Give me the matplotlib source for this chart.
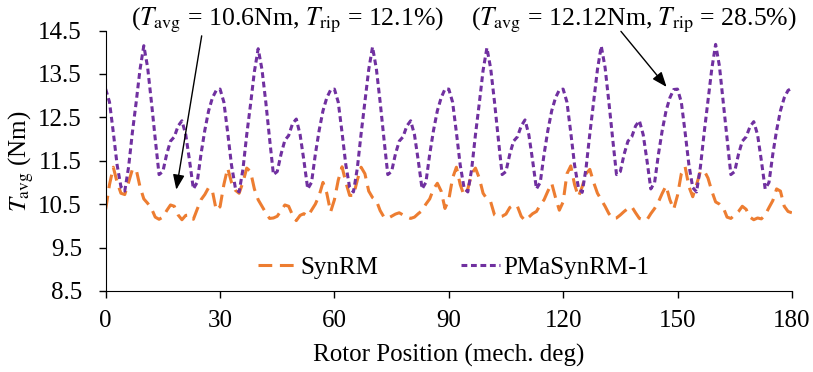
import matplotlib
matplotlib.use("Agg")
import matplotlib.pyplot as plt
import numpy as np

plt.rcParams['font.family'] = ['Liberation Serif', 'DejaVu Serif']
plt.rcParams['mathtext.fontset'] = 'stix'

# rotor position, 1 deg steps, 0..180
angle = np.arange(0, 181, 1)

# torque, one row per 30 deg
synrm = [
    10.38, 10.95, 11.35, 11.00, 10.75, 10.72, 11.00, 11.30, 11.30, 10.90,
    10.62, 10.52, 10.40, 10.20, 10.15, 10.20, 10.35, 10.48, 10.45, 10.25,
    10.14, 10.24, 10.25, 10.15, 10.38, 10.60, 10.72, 10.88, 10.80, 10.36,

    10.44, 10.95, 11.33, 11.00, 10.82, 10.75, 11.00, 11.33, 11.25, 10.85,
    10.60, 10.45, 10.30, 10.17, 10.18, 10.22, 10.35, 10.48, 10.45, 10.25,
    10.12, 10.24, 10.28, 10.22, 10.36, 10.50, 10.70, 11.00, 10.75, 10.32,

    10.60, 11.05, 11.36, 11.00, 10.70, 10.70, 11.05, 11.35, 11.20, 10.80,
    10.65, 10.58, 10.35, 10.20, 10.17, 10.22, 10.27, 10.30, 10.25, 10.20,
    10.17, 10.20, 10.28, 10.35, 10.50, 10.62, 10.85, 10.98, 10.80, 10.40,

    10.60, 11.10, 11.35, 10.95, 10.70, 10.85, 11.20, 11.33, 11.10, 10.75,
    10.62, 10.55, 10.25, 10.20, 10.22, 10.27, 10.42, 10.48, 10.45, 10.22,
    10.12, 10.20, 10.28, 10.33, 10.48, 10.60, 10.80, 10.98, 10.65, 10.36,

    10.55, 11.20, 11.38, 10.95, 10.67, 10.90, 11.20, 11.30, 11.00, 10.75,
    10.60, 10.45, 10.28, 10.17, 10.18, 10.25, 10.33, 10.40, 10.44, 10.30,
    10.17, 10.14, 10.14, 10.28, 10.40, 10.55, 10.75, 10.92, 10.60, 10.38,

    10.70, 11.20, 11.36, 10.90, 10.67, 10.95, 11.25, 11.27, 11.10, 10.80,
    10.55, 10.50, 10.42, 10.20, 10.17, 10.25, 10.33, 10.45, 10.38, 10.20,
    10.14, 10.18, 10.16, 10.25, 10.42, 10.58, 10.85, 10.80, 10.45, 10.33,
    10.30,
]

pmasynrm = [
    13.15, 12.85, 12.15, 11.40, 10.90, 10.80, 11.35, 12.15, 12.85, 13.60,
    14.15, 13.65, 12.85, 12.00, 11.18, 11.25, 11.65, 11.95, 12.05, 12.30,
    12.42, 12.10, 11.50, 10.85, 11.00, 11.65, 12.20, 12.65, 12.95, 13.12,

    13.15, 12.85, 12.15, 11.40, 10.88, 10.78, 11.30, 12.10, 12.80, 13.55,
    14.08, 13.60, 12.85, 12.00, 11.18, 11.25, 11.65, 11.97, 12.08, 12.35,
    12.46, 12.10, 11.50, 10.85, 11.00, 11.65, 12.20, 12.65, 12.95, 13.13,

    13.15, 12.85, 12.15, 11.40, 10.88, 10.78, 11.32, 12.12, 12.85, 13.60,
    14.12, 13.62, 12.85, 12.00, 11.18, 11.25, 11.65, 11.95, 12.05, 12.30,
    12.42, 12.10, 11.50, 10.85, 11.00, 11.65, 12.20, 12.65, 12.95, 13.15,

    13.15, 12.85, 12.15, 11.40, 10.88, 10.78, 11.30, 12.10, 12.82, 13.58,
    14.10, 13.62, 12.85, 12.00, 11.18, 11.25, 11.65, 11.95, 12.05, 12.30,
    12.44, 12.10, 11.50, 10.85, 11.00, 11.65, 12.20, 12.65, 12.95, 13.13,

    13.15, 12.85, 12.15, 11.40, 10.88, 10.77, 11.32, 12.12, 12.85, 13.60,
    14.14, 13.65, 12.85, 12.00, 11.18, 11.25, 11.65, 11.95, 12.05, 12.30,
    12.42, 12.10, 11.50, 10.85, 11.00, 11.65, 12.20, 12.65, 12.95, 13.14,

    13.15, 12.85, 12.15, 11.40, 10.88, 10.78, 11.35, 12.15, 12.88, 13.62,
    14.18, 13.68, 12.85, 12.00, 11.18, 11.25, 11.65, 11.95, 12.05, 12.28,
    12.40, 12.10, 11.50, 10.85, 11.00, 11.65, 12.20, 12.65, 12.95, 13.12,
    13.17,
]

xticks = [0, 30, 60, 90, 120, 150, 180]
yticks = [8.5, 9.5, 10.5, 11.5, 12.5, 13.5, 14.5]

fig = plt.figure(figsize=(8.13, 3.72), dpi=100)
ax = fig.add_axes([0.130, 0.218, 0.844, 0.700])

ax.plot(angle, synrm, color='#ED7D31', lw=2.2, dashes=(4.5, 2.5), label='SynRM')
ax.plot(angle, pmasynrm, color='#7030A0', lw=2.2, dashes=(1.9, 1.2), label='PMaSynRM-1')

ax.set_xlim(0, 180)
ax.set_ylim(8.5, 14.5)
ax.set_xticks(xticks)
ax.set_yticks(yticks)
ax.set_yticklabels(['%.1f' % v for v in yticks])
ax.tick_params(labelsize=18, direction='out', length=5, width=1)
ax.tick_params(axis='x', pad=9)
ax.tick_params(axis='y', pad=12)
for s in ['top', 'right']:
    ax.spines[s].set_visible(False)

ax.set_xlabel('Rotor Position (mech. deg)', fontsize=18, labelpad=8)
ax.set_ylabel(r'$T_{\mathrm{avg}}$ (Nm)', fontsize=18, labelpad=2)

ax.legend(loc='center', bbox_to_anchor=(0.507, 0.088), ncol=2, frameon=False,
          fontsize=18, handlelength=1.55, columnspacing=3.3, handletextpad=0.15)

arrow = dict(arrowstyle='-|>,head_width=0.35,head_length=0.9', color='black', lw=1)
ax.annotate('', xy=(18.4, 10.77), xytext=(25.3, 14.44), arrowprops=arrow,
            annotation_clip=False)
ax.annotate('', xy=(147.6, 13.15), xytext=(134.7, 14.53), arrowprops=arrow,
            annotation_clip=False)
ax.text(47.8, 14.74, r'($T_{\mathrm{avg}}$ = 10.6Nm, $T_{\mathrm{rip}}$ = 12.1%)',
        fontsize=18.5, ha='center', va='center', clip_on=False)
ax.text(138.6, 14.74, r'($T_{\mathrm{avg}}$ = 12.12Nm, $T_{\mathrm{rip}}$ = 28.5%)',
        fontsize=18.5, ha='center', va='center', clip_on=False)

fig.savefig('out.png', dpi=100)
